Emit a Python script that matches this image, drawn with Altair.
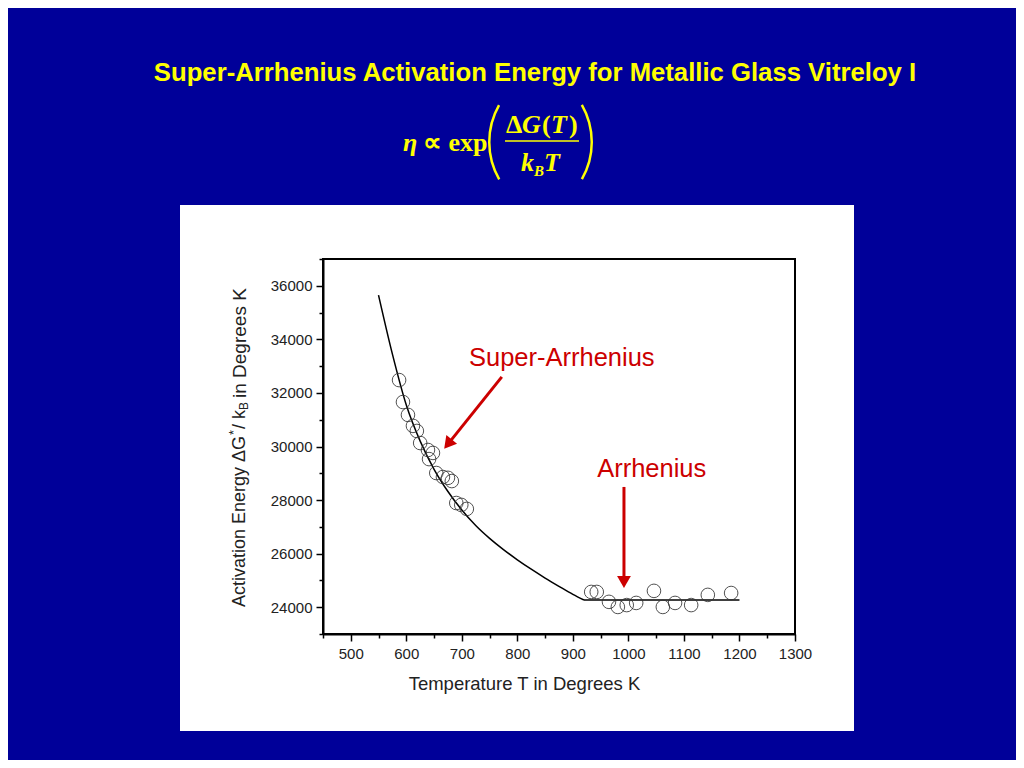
import altair as alt
import pandas as pd

# ---- data ----
T_points = [587, 594, 603, 612, 619, 625, 639, 648, 641, 654, 666, 675, 682, 690, 699, 709,
            933, 943, 965, 981, 997, 1014, 1046, 1062, 1084, 1113, 1143, 1185]
G_points = [32480, 31660, 31180, 30770, 30580, 30130, 29870, 29760, 29530, 29010, 28860, 28830,
            28710, 27890, 27820, 27670,
            24570, 24570, 24200, 24010, 24080, 24160, 24610, 24010, 24160, 24080, 24460, 24530]

T_curve = [550, 575, 600, 625, 650, 675, 700, 725, 750, 775, 800, 825, 850, 875, 900, 920]
G_curve = [35650, 33450, 31550, 30200, 29150, 28320, 27630, 27050, 26570, 26150, 25770, 25420,
           25090, 24780, 24480, 24270]
T_flat = [920, 1200]
G_flat = [24270, 24270]

ann_labels = ["Super-Arrhenius", "Arrhenius"]
ann_T = [880, 1042]
ann_G = [33300, 29160]
arrow_T = [772, 992]
arrow_G = [32600, 28490]
arrow_tip_T = [675, 992]
arrow_tip_G = [30090, 24940]
arrow_angle = [219, 180]

x_ticks = list(range(450, 1301, 50))
y_ticks = list(range(23000, 37001, 1000))

title_text = "Super-Arrhenius Activation Energy for Metallic Glass Vitreloy I"

W, H = 472, 375
BLUE = "#000099"
YELLOW = "#FFFF00"
RED = "#CC0000"
SANS = "Liberation Sans"
SERIF = "Liberation Serif"

pts = pd.DataFrame({"T": T_points, "G": G_points})
curve = pd.DataFrame({"T": T_curve, "G": G_curve})
flat = pd.DataFrame({"T": T_flat, "G": G_flat})
ann = pd.DataFrame({"label": ann_labels, "T": ann_T, "G": ann_G,
                    "T0": arrow_T, "G0": arrow_G, "T1": arrow_tip_T, "G1": arrow_tip_G,
                    "angle": arrow_angle})
one = pd.DataFrame({"a": [0]})

xscale = alt.Scale(domain=[450, 1300], nice=False, zero=False)
yscale = alt.Scale(domain=[23000, 37000], nice=False, zero=False)

xaxis = alt.Axis(
    values=x_ticks, format="d", labelFlush=False,
    labelExpr="datum.value % 100 === 0 ? datum.label : ''",
    tickSize={"condition": {"test": "datum.value % 100 === 0", "value": 7}, "value": 4},
    title="Temperature T in Degrees K", titleX=201, titleY=49,
    titleAlign="center", titleBaseline="middle",
    titleFontSize=18.5, titleFontWeight="normal", titleFont=SANS, titleColor="#222",
    labelFontSize=15, labelFont=SANS, labelColor="#222", labelPadding=5,
    grid=False, domainColor="black", domainWidth=2, tickColor="black", tickWidth=1.5,
    zindex=1,
)
yaxis = alt.Axis(
    values=y_ticks, format="d", labelFlush=False,
    labelExpr="datum.value % 2000 === 0 && datum.value >= 24000 && datum.value <= 36000 ? datum.label : ''",
    tickSize={"condition": {"test": "datum.value % 2000 === 0", "value": 7}, "value": 4},
    title=None,
    labelFontSize=15, labelFont=SANS, labelColor="#222", labelPadding=4,
    grid=False, domainColor="black", domainWidth=2, tickColor="black", tickWidth=1.5,
    zindex=1,
)

X = lambda f: alt.X(f, type="quantitative", scale=xscale, axis=xaxis)
Y = lambda f: alt.Y(f, type="quantitative", scale=yscale, axis=yaxis)

# white panel behind the plot
panel = alt.Chart(one).mark_rect(color="white").encode(
    x=alt.value(-143), x2=alt.value(531), y=alt.value(-54), y2=alt.value(472))

frame = alt.Chart(one).mark_rect(filled=False, stroke="black", strokeWidth=2).encode(
    x=alt.value(0), x2=alt.value(W), y=alt.value(0), y2=alt.value(H))

line = alt.Chart(curve).mark_line(color="black", strokeWidth=1.5, interpolate="monotone").encode(
    x=X("T"), y=Y("G"))
line_flat = alt.Chart(flat).mark_line(color="black", strokeWidth=1.5).encode(
    x=X("T"), y=Y("G"))

points = alt.Chart(pts).mark_point(shape="circle", filled=False, size=185, stroke="#333",
                                   strokeWidth=1, opacity=0.85).encode(x=X("T"), y=Y("G"))

arrows = alt.Chart(ann).mark_rule(color=RED, strokeWidth=3).encode(
    x=X("T0"), y=Y("G0"), x2="T1", y2="G1")
heads = alt.Chart(ann).mark_point(shape="triangle-up", filled=True, color=RED, size=190,
                                  opacity=1).encode(
    x=X("T1"), y=Y("G1"), angle=alt.Angle("angle", type="quantitative", scale=None))
ann_text = alt.Chart(ann).mark_text(color=RED, font=SANS, fontSize=25.5, align="center",
                                    baseline="middle").encode(
    x=X("T"), y=Y("G"), text="label")

def txt(s, x, y, **kw):
    return alt.Chart(one).mark_text(text=s, **kw).encode(x=alt.value(x), y=alt.value(y))

title = txt(title_text, 212, -186, font=SANS, fontSize=25.7, fontWeight="bold", color=YELLOW,
            align="center", baseline="middle")

fkw = dict(font=SERIF, color=YELLOW, baseline="alphabetic", fontWeight="bold", fontSize=26,
           align="left")
formula = [
    txt("η", 80, -108, fontStyle="italic", **fkw),
    txt("∝ exp", 100, -108, **fkw),
    txt("Δ", 183, -126, **fkw),
    txt("G", 199, -126, fontStyle="italic", **fkw),
    txt("(", 219, -126, **fkw),
    txt("T", 228, -126, fontStyle="italic", **fkw),
    txt(")", 246, -126, **fkw),
    txt("k", 198, -88, fontStyle="italic", **fkw),
    txt("B", 211, -83, fontStyle="italic", **{**fkw, "fontSize": 15}),
    txt("T", 221, -88, fontStyle="italic", **fkw),
]
bar = alt.Chart(one).mark_rule(color=YELLOW, strokeWidth=1.5).encode(
    x=alt.value(182), x2=alt.value(256), y=alt.value(-118))

# big parentheses drawn as thin arcs
lparen = alt.Chart(one).mark_arc(color=YELLOW, innerRadius=73.5, outerRadius=76,
                                 theta=4.19, theta2=5.23).encode(
    x=alt.value(241), y=alt.value(-117))
rparen = alt.Chart(one).mark_arc(color=YELLOW, innerRadius=73.5, outerRadius=76,
                                 theta=1.05, theta2=2.09).encode(
    x=alt.value(194), y=alt.value(-117))

ykw = dict(font=SANS, color="#222", angle=270, baseline="middle", align="left")
ytitle = [
    txt("Activation Energy ΔG", -83, 348, fontSize=18, **ykw),
    txt("*", -89, 176, fontSize=13, **ykw),
    txt("/ k", -83, 170, fontSize=18, **ykw),
    txt("B", -79, 151, fontSize=12, **ykw),
    txt("in Degrees K", -83, 139, fontSize=19, **ykw),
]

chart = alt.layer(
    panel, frame, line, line_flat, points, arrows, heads, ann_text, title, bar, lparen, rparen,
    *formula, *ytitle
).properties(
    width=W, height=H,
    padding={"left": 315, "top": 251, "right": 221, "bottom": 126},
    autosize=alt.AutoSizeParams(type="none"),
    background=BLUE,
).configure_view(stroke=None)

chart.save("out.html", embed_options={"renderer": "svg", "actions": False})
